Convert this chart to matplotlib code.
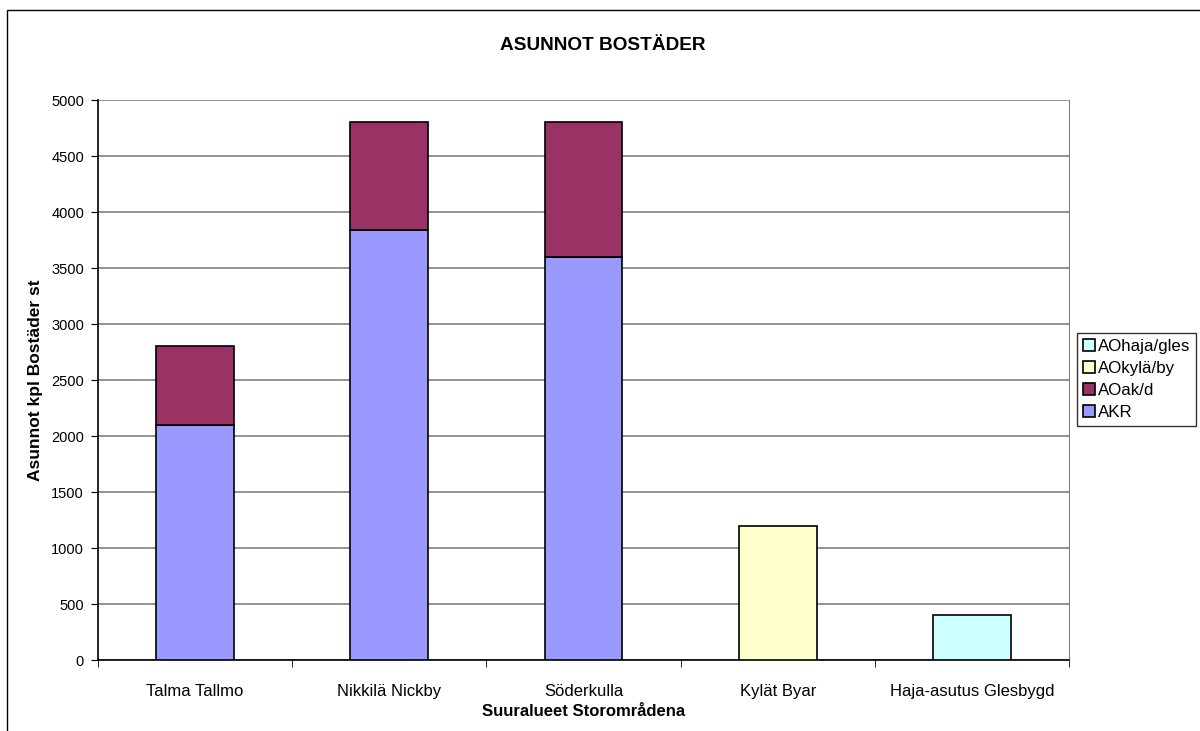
import matplotlib.pyplot as plt
import numpy as np

plt.rcParams['font.family'] = ['Liberation Sans', 'DejaVu Sans']

# Data
areas = ['Talma Tallmo', 'Nikkilä Nickby', 'Söderkulla', 'Kylät Byar', 'Haja-asutus Glesbygd']
akr = [2100, 3840, 3600, 0, 0]
aoak = [700, 960, 1200, 0, 0]
aokyla = [0, 0, 0, 1200, 0]
aohaja = [0, 0, 0, 0, 400]
series_names = ['AKR', 'AOak/d', 'AOkylä/by', 'AOhaja/gles']
series_colors = ['#9999FF', '#993366', '#FFFFCC', '#CCFFFF']

fig = plt.figure(figsize=(12, 7.31), dpi=100)
fig.patch.set_facecolor('white')
# figure frame
fig.add_artist(plt.Rectangle((7/1200, -0.05), 1.2, 1 - 10/731 + 0.05,
                             transform=fig.transFigure, fill=False,
                             edgecolor='black', linewidth=1))

ax = fig.add_axes([98/1200, 1 - 660/731, (1069 - 98)/1200, 560/731])

x = np.arange(len(areas))
bottom = np.zeros(len(areas))
handles = []
for vals, name, col in zip([akr, aoak, aokyla, aohaja], series_names, series_colors):
    vals = np.array(vals, dtype=float)
    mask = vals > 0
    b = ax.bar(x[mask], vals[mask], width=0.4, bottom=bottom[mask], color=col,
               edgecolor='black', linewidth=1.2, label=name, zorder=3)
    handles.append(b)
    bottom += vals

ax.set_ylim(0, 5000)
ax.set_xlim(-0.5, 4.5)
ax.set_yticks(np.arange(0, 5001, 500))
ax.yaxis.grid(True, color='#808080', linewidth=1.2, zorder=0)
ax.set_axisbelow(True)

ax.set_xticks(x)
ax.set_xticklabels(areas, fontsize=12)
ax.set_xticks(np.arange(-0.5, 5, 1), minor=True)
ax.tick_params(axis='x', which='major', length=0, pad=17)
ax.tick_params(axis='x', which='minor', length=5, direction='out', color='black')
ax.tick_params(axis='y', length=5, direction='out', labelsize=10.5, pad=5)

ax.spines['top'].set_visible(False)
ax.spines['right'].set_color('#808080')
ax.spines['left'].set_linewidth(1.2)
ax.spines['bottom'].set_linewidth(1.2)

ax.set_xlabel('Suuralueet Storområdena', fontsize=12, fontweight='bold', va='center')
ax.xaxis.set_label_coords(0.5, (660 - 712) / 560)
ax.set_ylabel('Asunnot kpl Bostäder st', fontsize=12.5, fontweight='bold', va='center')
ax.yaxis.set_label_coords((36 - 98) / 971, 0.5)
fig.text(603/1200, 1 - 45/731, 'ASUNNOT BOSTÄDER', fontsize=13.7, fontweight='bold',
         ha='center', va='center')

leg = fig.legend(handles[::-1], series_names[::-1], loc='upper left',
                 bbox_to_anchor=(1077/1200, 1 - 333/731), fontsize=12.2,
                 frameon=True, fancybox=False, edgecolor='black',
                 handlelength=0.7, handleheight=0.7, handletextpad=0.2,
                 borderpad=0.35, borderaxespad=0, labelspacing=0.42)
leg.get_frame().set_linewidth(1)
leg._legend_box.align = 'left'

fig.savefig('out.png', dpi=100)
